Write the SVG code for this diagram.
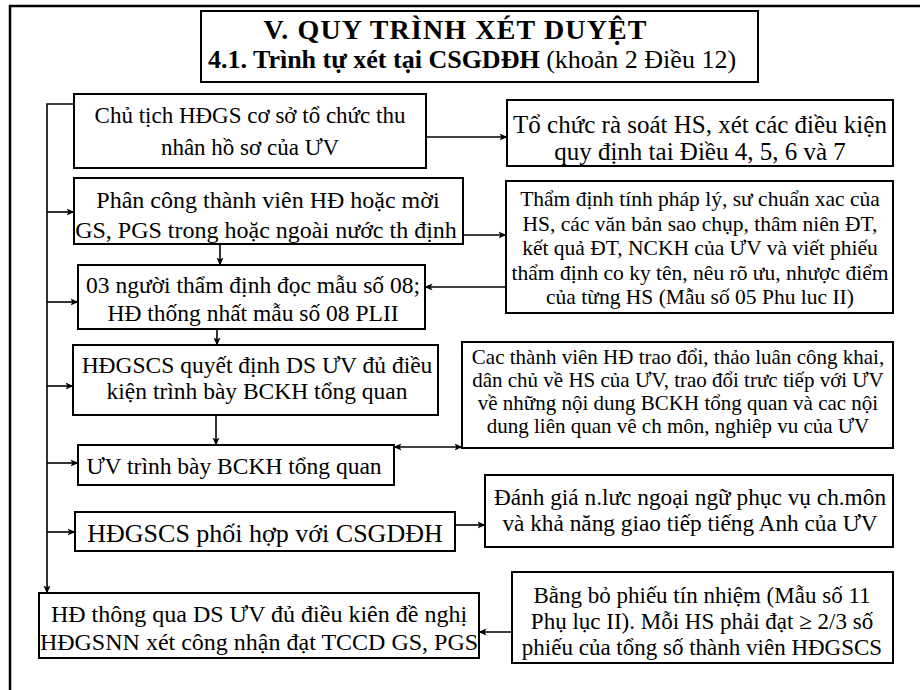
<svg xmlns="http://www.w3.org/2000/svg" width="920" height="690" viewBox="0 0 920 690">
<defs>
<style>
.bx{fill:#fff;stroke:#000;stroke-width:2}
.t{font-family:"Liberation Serif","Times New Roman",serif;fill:#000;text-anchor:middle}
.c{fill:none;stroke:#000;stroke-width:1.6}
.fr{fill:none;stroke:#000;stroke-width:2.5}
</style>
<marker id="ah" viewBox="0 0 8 8" refX="7.5" refY="4" markerWidth="8" markerHeight="8" markerUnits="userSpaceOnUse" orient="auto-start-reverse">
<path d="M0,0.5 L8,4 L0,7.5 L2,4 Z" fill="#000"/>
</marker>
</defs>
<rect width="920" height="690" fill="#fff"/>
<path class="fr" d="M10,690 V6 H920"/>

<g id="title">
<rect class="bx" x="201" y="11" width="557" height="71"/>
<text class="t" x="455" y="39" font-size="28" font-weight="bold" textLength="383" lengthAdjust="spacing">V. QUY TRÌNH XÉT DUYỆT</text>
<text class="t" x="472" y="68" font-size="26"><tspan font-weight="bold">4.1. Trình tự xét tại CSGDĐH</tspan> (khoản 2 Điều 12)</text>
</g>

<g id="n1">
<rect class="bx" x="74" y="94" width="352" height="74"/>
<text class="t" x="250" y="123" font-size="23">Chủ tịch HĐGS cơ sở tổ chức thu</text>
<text class="t" x="250" y="155" font-size="23">nhân hồ sơ của ƯV</text>
</g>

<g id="r1">
<rect class="bx" x="507" y="100" width="386" height="66"/>
<text class="t" x="700" y="133" font-size="25">Tổ chức rà soát HS, xét các điều kiện</text>
<text class="t" x="700" y="160" font-size="25">quy định tai Điều 4, 5, 6 và 7</text>
</g>

<g id="n2">
<rect class="bx" x="74" y="178" width="389" height="66"/>
<text class="t" x="268" y="208" font-size="24">Phân công thành viên HĐ hoặc mời</text>
<text class="t" x="266" y="238" font-size="24">GS, PGS trong hoặc ngoài nước th định</text>
</g>

<g id="r2">
<rect class="bx" x="506" y="181" width="387" height="132"/>
<text class="t" x="700" y="206" font-size="21.5">Thẩm định tính pháp lý, sư chuẩn xac của</text>
<text class="t" x="700" y="230.5" font-size="21.5">HS, các văn bản sao chụp, thâm niên ĐT,</text>
<text class="t" x="700" y="255" font-size="21.5">kết quả ĐT, NCKH của ƯV và viết phiếu</text>
<text class="t" x="700" y="279.5" font-size="21.5">thẩm định co ky tên, nêu rõ ưu, nhược điểm</text>
<text class="t" x="700" y="304" font-size="21.5">của từng HS (Mẫu số 05 Phu luc II)</text>
</g>

<g id="n3">
<rect class="bx" x="78" y="265" width="347" height="64"/>
<text class="t" x="253" y="293" font-size="23.5">03 người thẩm định đọc mẫu số 08;</text>
<text class="t" x="253" y="321" font-size="23.5">HĐ thống nhất mẫu số 08 PLII</text>
</g>

<g id="n4">
<rect class="bx" x="73" y="345" width="365" height="70"/>
<text class="t" x="257" y="373" font-size="23.5">HĐGSCS quyết định DS ƯV đủ điều</text>
<text class="t" x="257" y="399" font-size="23.5">kiện trình bày BCKH tổng quan</text>
</g>

<g id="r3">
<rect class="bx" x="462" y="342" width="431" height="106"/>
<text class="t" x="678" y="364" font-size="21">Cac thành viên HĐ trao đổi, thảo luân công khai,</text>
<text class="t" x="678" y="387" font-size="21">dân chủ về HS của ƯV, trao đổi trưc tiếp với ƯV</text>
<text class="t" x="678" y="410" font-size="21">về những nội dung BCKH tổng quan và cac nội</text>
<text class="t" x="678" y="433" font-size="21">dung liên quan vê ch môn, nghiêp vu của ƯV</text>
</g>

<g id="n5">
<rect class="bx" x="78" y="445" width="316" height="40"/>
<text class="t" x="234" y="474" font-size="23.5">ƯV trình bày BCKH tổng quan</text>
</g>

<g id="n6">
<rect class="bx" x="75" y="512" width="380" height="39"/>
<text class="t" x="265" y="542" font-size="26">HĐGSCS phối hợp với CSGDĐH</text>
</g>

<g id="r4">
<rect class="bx" x="485" y="475" width="408" height="72"/>
<text class="t" x="690" y="505" font-size="23.3">Đánh giá n.lưc ngoại ngữ phục vụ ch.môn</text>
<text class="t" x="690" y="531" font-size="23.3">và khả năng giao tiếp tiếng Anh của ƯV</text>
</g>

<g id="n7">
<rect class="bx" x="39" y="593" width="440" height="65"/>
<text class="t" x="259" y="622" font-size="24">HĐ thông qua DS ƯV đủ điều kiên đề nghị</text>
<text class="t" x="259" y="650" font-size="24">HĐGSNN xét công nhận đạt TCCD GS, PGS</text>
</g>

<g id="r5">
<rect class="bx" x="512" y="572" width="381" height="91"/>
<text class="t" x="702" y="603" font-size="23">Bằng bỏ phiếu tín nhiệm (Mẫu số 11</text>
<text class="t" x="702" y="629" font-size="23">Phụ lục II). Mỗi HS phải đạt ≥ 2/3 số</text>
<text class="t" x="702" y="655" font-size="23">phiếu của tổng số thành viên HĐGSCS</text>
</g>

<g id="connectors">
<path class="c" d="M74,104 H47 V593" marker-end="url(#ah)"/>
<path class="c" d="M47,212 H74" marker-end="url(#ah)"/>
<path class="c" d="M47,302 H78" marker-end="url(#ah)"/>
<path class="c" d="M47,386 H73" marker-end="url(#ah)"/>
<path class="c" d="M47,463 H78" marker-end="url(#ah)"/>
<path class="c" d="M47,532 H75" marker-end="url(#ah)"/>
<path class="c" d="M426,137 H507" marker-end="url(#ah)"/>
<path class="c" d="M463,235 H506" marker-end="url(#ah)"/>
<path class="c" d="M506,287 H425" marker-end="url(#ah)"/>
<path class="c" d="M220,244 V265" marker-end="url(#ah)"/>
<path class="c" d="M217,329 V345" marker-end="url(#ah)"/>
<path class="c" d="M216,415 V445" marker-end="url(#ah)"/>
<path class="c" d="M394,447 H462" marker-start="url(#ah)" marker-end="url(#ah)"/>
<path class="c" d="M455,525 H485" marker-end="url(#ah)"/>
<path class="c" d="M512,632 H479" marker-end="url(#ah)"/>
</g>
</svg>
